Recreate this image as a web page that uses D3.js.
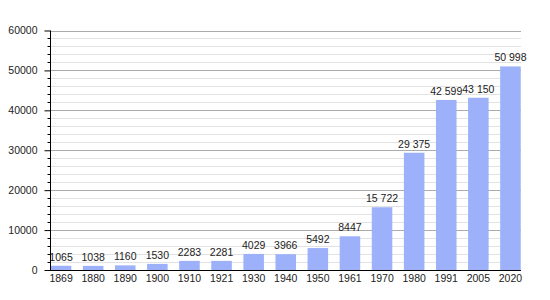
<!DOCTYPE html>
<html>
<head>
<meta charset="utf-8">
<script src="https://cdn.jsdelivr.net/npm/d3@7"></script>
<style>
  body { margin: 0; background: #fff; }
  text { font-family: "Liberation Sans", Arial, sans-serif; fill: #222; }
</style>
</head>
<body>
<svg id="chart"></svg>
<script>
const width = 550;
const height = 300;

// population by census year
const years = ["1869", "1880", "1890", "1900", "1910", "1921", "1930", "1940", "1950", "1961", "1970", "1980", "1991", "2005", "2020"];
const population = [1065, 1038, 1160, 1530, 2283, 2281, 4029, 3966, 5492, 8447, 15722, 29375, 42599, 43150, 50998];
const yTicks = [0, 10000, 20000, 30000, 40000, 50000, 60000];

const svg = d3.select("#chart").attr("width", width).attr("height", height);

const x = d3.scaleBand()
  .domain(years)
  .range([45, 526.5])
  .paddingInner(0.36)
  .paddingOuter(0.18);

const y = d3.scaleLinear().domain([0, 60000]).range([270, 30.5]);

const left = 50, right = 521;

// minor grid every 2000
const minor = d3.range(0, 60001, 2000).filter((v) => v % 10000 !== 0);
svg.append("g")
  .selectAll("line")
  .data(minor)
  .enter()
  .append("line")
  .attr("x1", left)
  .attr("x2", right)
  .attr("y1", (d) => Math.round(y(d)) + 0.5)
  .attr("y2", (d) => Math.round(y(d)) + 0.5)
  .attr("stroke", "#e2e2e2");

svg.append("g")
  .selectAll("line")
  .data(yTicks.filter((v) => v > 0))
  .enter()
  .append("line")
  .attr("x1", left)
  .attr("x2", right)
  .attr("y1", (d) => Math.round(y(d)) + 0.5)
  .attr("y2", (d) => Math.round(y(d)) + 0.5)
  .attr("stroke", "#ababab");

// bars
svg.append("g")
  .selectAll("rect")
  .data(population)
  .enter()
  .append("rect")
  .attr("x", (d, i) => x(years[i]))
  .attr("width", x.bandwidth())
  .attr("y", (d) => y(d))
  .attr("height", (d) => y(0) - y(d))
  .attr("fill", "#9db0fa");

// value labels, space as thousands separator above 9999
const fmt = (v) => (v >= 10000 ? d3.format(",")(v).replace(",", " ") : String(v));
svg.append("g")
  .selectAll("text")
  .data(population)
  .enter()
  .append("text")
  .attr("x", (d, i) => x(years[i]) + x.bandwidth() / 2)
  .attr("y", (d) => y(d) - 5)
  .attr("text-anchor", "middle")
  .attr("font-size", "10.5px")
  .text(fmt);

// y axis: major ticks with labels, minor ticks without
const yAxis = svg.append("g").attr("transform", `translate(${left + 0.5},0)`);
yAxis.call(
  d3.axisLeft(y).tickValues(yTicks).tickSize(6).tickPadding(7).tickFormat(d3.format("d"))
);
yAxis.selectAll(".tick text").attr("font-size", "10.5px").attr("font-family", "Liberation Sans, Arial, sans-serif").attr("fill", "#222");
yAxis.selectAll(".tick line").attr("stroke", "#000");
yAxis.select(".domain").remove();
yAxis.selectAll(".minor")
  .data(minor)
  .enter()
  .append("line")
  .attr("x1", -3)
  .attr("x2", 0)
  .attr("y1", (d) => Math.round(y(d)) + 0.5)
  .attr("y2", (d) => Math.round(y(d)) + 0.5)
  .attr("stroke", "#000");
yAxis.append("line")
  .attr("x1", 0).attr("x2", 0)
  .attr("y1", y(60000)).attr("y2", y(0))
  .attr("stroke", "#000");

// x axis
const xAxis = svg.append("g").attr("transform", `translate(0,${Math.round(y(0)) + 0.5})`);
xAxis.call(d3.axisBottom(x).tickSize(0).tickPadding(4));
xAxis.select(".domain").remove();
xAxis.selectAll(".tick text").attr("font-size", "10.5px").attr("font-family", "Liberation Sans, Arial, sans-serif").attr("fill", "#222");
xAxis.append("line")
  .attr("x1", left).attr("x2", right)
  .attr("stroke", "#000");
</script>
</body>
</html>
